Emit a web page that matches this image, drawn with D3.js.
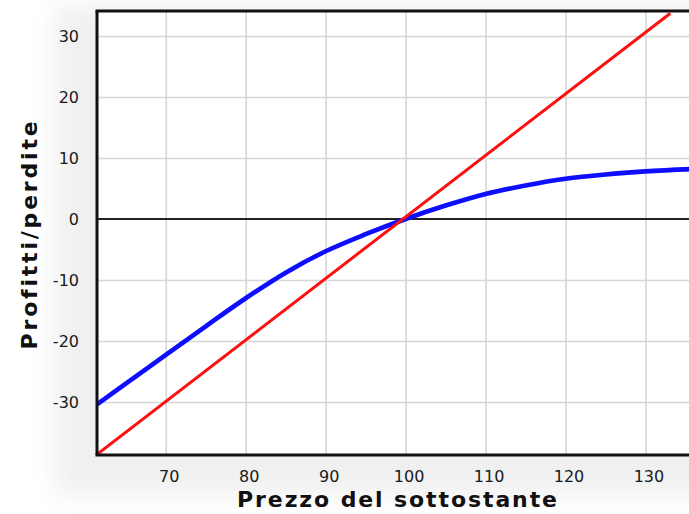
<!DOCTYPE html>
<html>
<head>
<meta charset="utf-8">
<script src="https://cdn.jsdelivr.net/npm/d3@7"></script>
<style>
  html, body { margin: 0; padding: 0; background: #fff; }
  svg { display: block; }
  .tick-label text { font-family: "DejaVu Sans", Verdana, sans-serif; font-size: 16px; fill: #1a1a1a; }
</style>
</head>
<body>
<svg id="chart" width="689" height="514"></svg>
<script>
// ---- data ----
const xTicks = [70, 80, 90, 100, 110, 120, 130];
const yTicks = [-30, -20, -10, 0, 10, 20, 30];
const bluePrice = [61.4, 65, 70, 75, 80, 85, 90, 95, 100, 105, 110, 115, 120, 125, 130, 136.2];
const blueValue = [-30.4, -27.0, -22.3, -17.6, -13.0, -8.8, -5.3, -2.5, 0, 2.2, 4.1, 5.5, 6.6, 7.3, 7.8, 8.2];
const redPrice = [61.4, 133];
const redValue = [-38.6, 33.6];
const xTitle = "Prezzo del sottostante";
const yTitle = "Profitti/perdite";

(function () {
// ---- layout ----
const svg = d3.select("#chart");
const pL = 97, pR = 695, pT = 11, pB = 455;

const x = d3.scaleLinear().domain([61.4, 136.2]).range([pL, pR]);
const y = d3.scaleLinear().domain([-38.7, 34.1]).range([pB, pT]);

const defs = svg.append("defs");
defs.append("filter").attr("id", "glow").attr("x", "-20%").attr("y", "-20%").attr("width", "140%").attr("height", "140%")
  .append("feGaussianBlur").attr("stdDeviation", 12);
defs.append("filter").attr("id", "soft")
  .append("feGaussianBlur").attr("stdDeviation", 0.6);
defs.append("clipPath").attr("id", "plotclip").append("rect")
  .attr("x", pL).attr("y", pT).attr("width", pR - pL).attr("height", pB - pT);

svg.append("rect").attr("x", 55).attr("y", 5).attr("width", 660).attr("height", 490)
  .attr("fill", "#f0f0f0").attr("filter", "url(#glow)");
svg.append("rect").attr("x", pL).attr("y", pT).attr("width", pR - pL).attr("height", pB - pT)
  .attr("fill", "#fff");

// grid
const gx = svg.append("g").attr("transform", `translate(0,${pB})`)
  .call(d3.axisBottom(x).tickValues(xTicks).tickSize(-(pB - pT)).tickFormat(""));
gx.select(".domain").remove();
gx.selectAll("line").attr("stroke", "#d6d6d6").attr("stroke-width", 1.6);

const gy = svg.append("g").attr("transform", `translate(${pL},0)`)
  .call(d3.axisLeft(y).tickValues(yTicks.filter(d => d !== 0)).tickSize(-(pR - pL)).tickFormat(""));
gy.select(".domain").remove();
gy.selectAll("line").attr("stroke", "#d6d6d6").attr("stroke-width", 1.6);

// zero line
svg.append("line").attr("x1", pL).attr("x2", pR).attr("y1", y(0)).attr("y2", y(0))
  .attr("stroke", "#222").attr("stroke-width", 2);

// series
const line = d3.line().x(d => x(d[0])).y(d => y(d[1])).curve(d3.curveMonotoneX);
const plot = svg.append("g").attr("clip-path", "url(#plotclip)");
plot.append("path").datum(bluePrice.map((p, i) => [p, blueValue[i]]))
  .attr("d", line).attr("fill", "none").attr("stroke", "#0a0aff").attr("stroke-width", 4.6)
  .attr("filter", "url(#soft)");
plot.append("path").datum(redPrice.map((p, i) => [p, redValue[i]]))
  .attr("d", d3.line().x(d => x(d[0])).y(d => y(d[1]))).attr("fill", "none")
  .attr("stroke", "#ff1010").attr("stroke-width", 3).attr("stroke-linecap", "round");

// borders
svg.append("line").attr("x1", pL - 1.5).attr("x2", pR).attr("y1", pT).attr("y2", pT)
  .attr("stroke", "#111").attr("stroke-width", 3);
svg.append("line").attr("x1", pL - 1.5).attr("x2", pR).attr("y1", pB).attr("y2", pB)
  .attr("stroke", "#111").attr("stroke-width", 3);
svg.append("line").attr("x1", pL).attr("x2", pL).attr("y1", pT).attr("y2", pB)
  .attr("stroke", "#111").attr("stroke-width", 3);

// tick labels
const fmt = d => String(d);
const ax = svg.append("g").attr("class", "tick-label").attr("transform", `translate(0,${pB})`)
  .call(d3.axisBottom(x).tickValues(xTicks).tickSize(0).tickPadding(16).tickFormat(fmt));
ax.select(".domain").remove();
ax.selectAll("text").attr("dx", 3);

const ay = svg.append("g").attr("class", "tick-label").attr("transform", `translate(${pL},0)`)
  .call(d3.axisLeft(y).tickValues(yTicks).tickSize(0).tickPadding(18).tickFormat(fmt));
ay.select(".domain").remove();

// axis titles
svg.append("text").attr("x", 398).attr("y", 507).attr("text-anchor", "middle")
  .attr("font-family", "DejaVu Sans, Verdana, sans-serif").attr("font-weight", "bold")
  .attr("font-size", 22).attr("letter-spacing", 1.9).attr("fill", "#111").text(xTitle);
svg.append("text").attr("transform", "translate(37,234) rotate(-90)").attr("text-anchor", "middle")
  .attr("font-family", "DejaVu Sans, Verdana, sans-serif").attr("font-weight", "bold")
  .attr("font-size", 22).attr("letter-spacing", 2.8).attr("fill", "#111").text(yTitle);
})();
</script>
</body>
</html>
